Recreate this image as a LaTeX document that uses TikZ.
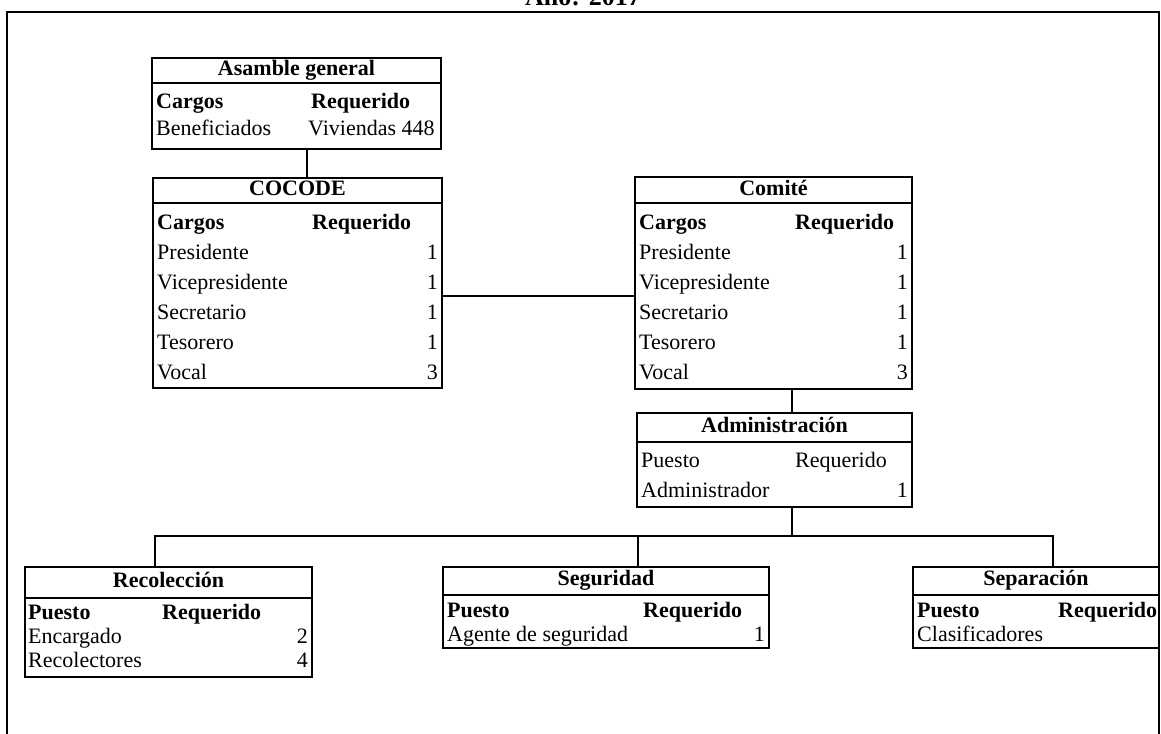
\documentclass[tikz,border=0pt]{standalone}
\usepackage{fontspec}
\setmainfont{Liberation Serif}

\begin{document}
\begin{tikzpicture}[x=1pt,y=-1pt,
  font=\fontsize{22}{26}\selectfont,
  ln/.style={line width=1.7pt},
  caja/.style={ln,draw,inner sep=0pt,outer sep=0pt,anchor=north west},
  txt/.style={anchor=west,inner sep=0pt,text height=14pt,text depth=5pt},
  num/.style={txt,anchor=east},
  neg/.style={font=\fontsize{22}{26}\selectfont\bfseries},
  tit/.style={txt,neg,anchor=center}]
  \useasboundingbox (0,0) rectangle (1161,733);
  % marco y titulo
  \draw[ln] (7,750) -- (7,12) -- (1159,12) -- (1159,750);
  \node[tit,anchor=base,font=\fontsize{26}{30}\selectfont\bfseries] (anio) at (583,6) {Año: 2017};
  % asamblea
  \node[caja,minimum width=289pt,minimum height=91pt] (asamble) at (152,58) {};
  \draw[ln] (asamble.west |- 0,83) -- (asamble.east |- 0,83);
  \node[tit] (asamble-t) at (296.5,71) {Asamble general};
  \node[txt,neg] (asamble-c) at (156,104) {Cargos};
  \node[txt,neg] (asamble-r) at (311,104) {Requerido};
  \node[txt] (asamble-b) at (156,131) {Beneficiados};
  \node[txt] (asamble-v) at (308,131) {Viviendas 448};
  % cocode
  \node[caja,minimum width=289pt,minimum height=210pt] (cocode) at (153,178) {};
  \draw[ln] (cocode.west |- 0,203) -- (cocode.east |- 0,203);
  \node[tit] (cocode-t) at (297.5,191) {COCODE};
  \node[txt,neg] (cocode-c) at (157,225) {Cargos};
  \node[txt,neg] (cocode-r) at (312,225) {Requerido};
  \foreach \c/\n [count=\i from 0] in {Presidente/1,Vicepresidente/1,Secretario/1,Tesorero/1,Vocal/3} {
    \node[txt] (cocode-c\i) at (157,{255+30*\i}) {\c};
    \node[num] (cocode-n\i) at (438,{255+30*\i}) {\n};
  }
  % comite
  \node[caja,minimum width=277pt,minimum height=212pt] (comite) at (635,177) {};
  \draw[ln] (comite.west |- 0,203) -- (comite.east |- 0,203);
  \node[tit] (comite-t) at (773.5,191) {Comité};
  \node[txt,neg] (comite-c) at (639,225) {Cargos};
  \node[txt,neg] (comite-r) at (795,225) {Requerido};
  \foreach \c/\n [count=\i from 0] in {Presidente/1,Vicepresidente/1,Secretario/1,Tesorero/1,Vocal/3} {
    \node[txt] (comite-c\i) at (639,{255+30*\i}) {\c};
    \node[num] (comite-n\i) at (908,{255+30*\i}) {\n};
  }
  % administracion
  \node[caja,minimum width=275pt,minimum height=94pt] (admin) at (637,413) {};
  \draw[ln] (admin.west |- 0,442) -- (admin.east |- 0,442);
  \node[tit] (admin-t) at (774.5,428) {Administración};
  \node[txt] (admin-p) at (641,463) {Puesto};
  \node[txt] (admin-r) at (795,463) {Requerido};
  \node[txt] (admin-a) at (641,493) {Administrador};
  \node[num] (admin-n) at (908,493) {1};
  % recoleccion
  \node[caja,minimum width=287pt,minimum height=110pt] (recol) at (25,567) {};
  \draw[ln] (recol.west |- 0,598) -- (recol.east |- 0,598);
  \node[tit] (recol-t) at (168.5,583) {Recolección};
  \node[txt,neg] (recol-p) at (28,615) {Puesto};
  \node[txt,neg] (recol-r) at (162,615) {Requerido};
  \node[txt] (recol-e) at (28,639) {Encargado};
  \node[num] (recol-n1) at (308,639) {2};
  \node[txt] (recol-c) at (28,663) {Recolectores};
  \node[num] (recol-n2) at (308,663) {4};
  % seguridad
  \node[caja,minimum width=326pt,minimum height=81pt] (segur) at (443,567) {};
  \draw[ln] (segur.west |- 0,595) -- (segur.east |- 0,595);
  \node[tit] (segur-t) at (606,581) {Seguridad};
  \node[txt,neg] (segur-p) at (447,613) {Puesto};
  \node[txt,neg] (segur-r) at (643,613) {Requerido};
  \node[txt] (segur-a) at (447,637) {Agente de seguridad};
  \node[num] (segur-n) at (765,637) {1};
  % separacion
  \node[caja,minimum width=246pt,minimum height=81pt] (separ) at (913,567) {};
  \draw[ln] (separ.west |- 0,595) -- (separ.east |- 0,595);
  \node[tit] (separ-t) at (1036,581) {Separación};
  \node[txt,neg] (separ-p) at (917,613) {Puesto};
  \node[txt,neg] (separ-r) at (1058,613) {Requerido};
  \node[txt] (separ-c) at (917,637) {Clasificadores};
  % lineas
  \draw[ln] (asamble.south -| 307,0) -- (cocode.north -| 307,0);
  \draw[ln] (cocode.east |- 0,296) -- (comite.west |- 0,296);
  \draw[ln] (comite.south -| 792,0) -- (admin.north -| 792,0);
  \coordinate (bus) at (792,536);
  \draw[ln] (admin.south -| bus) -- (bus);
  \draw[ln] (recol.north -| 155,0) |- (bus) -| (separ.north -| 1053,0);
  \draw[ln] (segur.north -| 638,0) -- (bus -| 638,0);
\end{tikzpicture}
\end{document}
